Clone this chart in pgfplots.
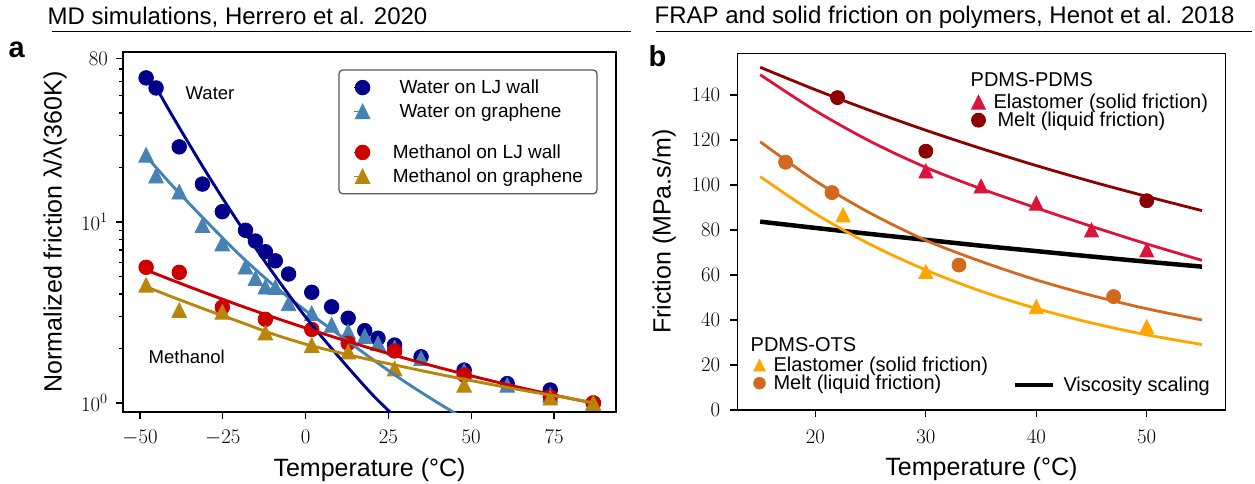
\documentclass[border=0pt]{standalone}
\usepackage{fontspec}
\setmainfont{Liberation Sans}
\usepackage{pgfplots}
\pgfplotsset{compat=1.18}
\usepackage{graphicx}

\definecolor{cnavy}{RGB}{0,0,139}
\definecolor{csteel}{RGB}{70,130,180}
\definecolor{cred}{RGB}{204,0,0}
\definecolor{cgold}{RGB}{184,134,11}
\definecolor{cdred}{RGB}{139,0,0}
\definecolor{ccrim}{RGB}{220,20,60}
\definecolor{cchoc}{RGB}{210,105,30}
\definecolor{corange}{RGB}{255,165,0}
\definecolor{cframe}{RGB}{90,90,90}

\newcommand{\fs}[1]{\fontsize{#1}{#1}\selectfont}
\newcommand{\lstrut}{\rule[-5.7pt]{0pt}{19pt}}
\newcommand{\bstrut}{\rule[-6pt]{0pt}{20pt}}

\pgfdeclareplotmark{mtri}{%
  \pgfpathmoveto{\pgfqpoint{0pt}{\pgfplotmarksize}}%
  \pgfpathlineto{\pgfqpoint{-\pgfplotmarksize}{-\pgfplotmarksize}}%
  \pgfpathlineto{\pgfqpoint{\pgfplotmarksize}{-\pgfplotmarksize}}%
  \pgfpathclose
  \pgfusepathqfillstroke}

\pgfplotsset{
  myaxis/.style={scale only axis, anchor=south west, tick align=outside, tick pos=left,
    axis line style={line width=1.4pt}, every tick/.style={black, line width=1.2pt},
    major tick length=7pt, minor tick length=4pt,
    ticklabel style={font=\fs{21}, inner sep=0pt},
    label style={font=\fs{25}, inner sep=0pt},
    clip mode=individual},
  markonly/.style={only marks, mark options={line width=0.8pt}},
}

\begin{document}
\begin{tikzpicture}
\path[use as bounding box] (0pt,0pt) rectangle (1255pt,483pt);

% ---------------- panel a ----------------
\begin{axis}[myaxis, at={(123pt,71pt)}, width=493pt, height=360pt,
  ymode=log, xmin=-55.13, xmax=93.7, ymin=0.892, ymax=86.9,
  xtick={-50,-25,0,25,50,75}, ytick={1,10,80}, yticklabels={$10^0$,$10^1$,$80$},
  minor ytick={2,3,4,5,6,7,8,9,20,30,40,50,60,70},
  xticklabel shift=11pt, yticklabel shift=8pt,
  xlabel={Temperature (°C)}, ylabel={Normalized friction λ/λ(360K)},
  xlabel style={at={(axis description cs:0.5,-0.17972)}, anchor=base},
  ylabel style={at={(axis description cs:-0.12434,0.5)}, anchor=base},
  legend cell align=left,
  legend style={at={(1,1)}, anchor=north east, xshift=-18.3pt, yshift=-17.3pt,
    draw=cframe, line width=1.3pt, rounded corners=4pt, fill=white, font=\fs{19},
    inner xsep=14pt, inner ysep=10pt, row sep=8.5pt, column sep=23pt,
    nodes={inner sep=0pt}},
  legend image code/.code={\path (0pt,0pt) -- (9pt,0pt); \draw[#1] plot coordinates {(9pt,0pt)};},
]
% markers (drawn below the fitted lines)
\addplot[markonly, mark=*, mark size=7.3pt, color=cnavy] coordinates {
(-48.15,62.5) (-45.15,55) (-38.15,26) (-31.15,16.2) (-25.15,11.4) (-18.15,9.0)
(-15.15,7.85) (-12.15,6.85) (-9.15,6.1) (-5.15,5.16) (1.85,4.09) (7.85,3.40)
(12.85,2.94) (17.85,2.51) (21.85,2.28) (26.85,2.09) (34.85,1.80) (47.85,1.52)
(60.85,1.28) (73.85,1.18) (86.85,1.0)};
\addlegendentry{\hspace{6.6pt}Water on LJ wall\lstrut}
\addplot[markonly, mark=mtri, mark size=7.3pt, color=csteel] coordinates {
(-48.15,23.5) (-45.15,18.0) (-38.15,14.7) (-31.15,9.6) (-25.15,7.6) (-18.15,5.66)
(-15.15,4.89) (-12.15,4.39) (-9.15,4.36) (-5.15,3.55) (1.85,3.13) (7.85,2.70)
(12.85,2.48) (17.85,2.34) (21.85,2.14) (26.85,2.02) (34.85,1.77) (47.85,1.50)
(60.85,1.26) (73.85,1.11) (86.85,1.0)};
\addlegendentry{\hspace{6.6pt}Water on graphene\lstrut}
\addlegendimage{empty legend}
\addlegendentry{\rule{0pt}{7.3pt}}
\addplot[markonly, mark=*, mark size=7.3pt, color=cred] coordinates {
(-48.15,5.62) (-38.15,5.27) (-25.15,3.38) (-12.15,2.90) (1.85,2.55) (12.85,2.14)
(26.85,1.94) (47.85,1.43) (73.85,1.08) (86.85,1.0)};
\addlegendentry{Methanol on LJ wall\lstrut}
\addplot[markonly, mark=mtri, mark size=7.3pt, color=cgold] coordinates {
(-48.15,4.49) (-38.15,3.26) (-25.15,3.19) (-12.15,2.45) (1.85,2.09) (12.85,1.92)
(26.85,1.55) (47.85,1.26) (73.85,1.07) (86.85,1.0)};
\addlegendentry{Methanol on graphene\lstrut}
% fitted lines
\addplot[csteel, line width=2.9pt, smooth, forget plot] coordinates {
(-48.15,23.1) (-40,15.7) (-30,10.1) (-20,6.6) (-10,4.52) (0,3.24) (10,2.39) (20,1.754) (30,1.309) (40,1.0) (47,0.84)};
\addplot[cnavy, line width=2.9pt, smooth, forget plot] coordinates {
(-46,59.07) (-40,37.97) (-30,18.82) (-20,9.745) (-10,5.275) (0,2.985) (10,1.80) (20,1.12) (27,0.84)};
\addplot[cred, line width=2.9pt, smooth, forget plot] coordinates {
(-48.15,5.43) (-40,4.745) (-30,4.042) (-20,3.464) (-10,2.990) (0,2.597) (10,2.269) (20,1.996)
(30,1.767) (40,1.575) (50,1.413) (60,1.275) (70,1.158) (80,1.059) (86.85,1.0)};
\addplot[cgold, line width=2.9pt, smooth, forget plot] coordinates {
(-48.15,4.39) (-40,3.837) (-30,3.273) (-20,2.812) (-10,2.410) (0,2.113) (10,1.901) (20,1.726)
(30,1.578) (40,1.445) (50,1.330) (60,1.227) (70,1.138) (80,1.059) (86.85,1.0)};
\end{axis}

% ---------------- panel b ----------------
\begin{axis}[myaxis, at={(737.3pt,73pt)}, width=488.3pt, height=356.7pt,
  xmin=12.93, xmax=57.14, ymin=0, ymax=158.5,
  xtick={20,30,40,50}, ytick={0,20,40,60,80,100,120,140},
  xticklabel shift=13pt, yticklabel shift=10pt,
  xlabel={Temperature (°C)}, ylabel={Friction (MPa.s/m)},
  xlabel style={at={(axis description cs:0.5,-0.18223)}, anchor=base},
  ylabel style={at={(axis description cs:-0.1366,0.5)}, anchor=base},
  legend cell align=left,
  legend style={at={(0,1)}, anchor=north west, xshift=234pt, yshift=-40.7pt,
    draw=none, fill=none, font=\fs{20}, inner sep=0pt, row sep=2pt, column sep=8pt,
    nodes={inner sep=0pt}},
  legend image code/.code={\draw[#1] plot coordinates {(0pt,0pt)};},
]
\addplot[black, line width=4.5pt, smooth, forget plot] coordinates {
(15,83.7) (20,80.9) (25,78.2) (30,75.6) (35,73.0) (40,70.6) (45,68.2) (50,65.9) (55,63.7)};
\addplot[cdred, line width=2.8pt, smooth, forget plot] coordinates {
(15,152.3) (20,142.3) (25,133.0) (30,124.3) (35,116.2) (40,108.6) (45,101.5) (50,94.9) (55,88.6)};
\addplot[ccrim, line width=2.8pt, smooth, forget plot] coordinates {
(15,149) (20,133) (25,119.3) (30,107.8) (35,98.3) (40,89.8) (45,81.6) (50,73.8) (55,66.5)};
\addplot[cchoc, line width=2.8pt, smooth, forget plot] coordinates {
(15,119.2) (20,101.8) (25,87.4) (30,75.4) (35,66.0) (40,57.8) (45,50.9) (50,45.0) (55,40.0)};
\addplot[corange, line width=2.8pt, smooth, forget plot] coordinates {
(15,103.7) (20,87.2) (25,73.5) (30,62.2) (35,52.8) (40,45.1) (45,38.7) (50,33.4) (55,29.1)};
\addplot[markonly, mark=mtri, mark size=7pt, color=ccrim] coordinates {
(30,106.2) (35,99.5) (40,91.9) (45,80) (50,71.1)};
\addlegendentry{Elastomer (solid friction)\bstrut}
\addplot[markonly, mark=*, mark size=7pt, color=cdred] coordinates {
(22,138.8) (30,115) (50,93)};
\addlegendentry{\hspace{4pt}Melt (liquid friction)\bstrut}
\addplot[markonly, mark=*, mark size=7pt, color=cchoc, forget plot] coordinates {
(17.3,110.1) (21.5,96.6) (33,64.4) (47,50.4)};
\addplot[markonly, mark=mtri, mark size=7pt, color=corange, forget plot] coordinates {
(22.5,86.7) (30,61.5) (40,45.9) (50,37)};
\end{axis}

% legend PDMS-OTS
\begin{axis}[at={(737.3pt,73pt)}, anchor=south west, scale only axis, width=488.3pt, height=356.7pt,
  hide axis, xmin=0, xmax=1, ymin=0, ymax=1,
  legend cell align=left,
  legend style={at={(0,1)}, anchor=north west, xshift=16pt, yshift=-303.7pt,
    draw=none, fill=none, font=\fs{20}, inner sep=0pt, row sep=2pt, column sep=8pt,
    nodes={inner sep=0pt}},
  legend image code/.code={\draw[#1] plot coordinates {(0pt,0pt)};},
]
\addlegendimage{only marks, mark=mtri, mark size=6pt, corange}
\addlegendentry{Elastomer (solid friction)\bstrut}
\addlegendimage{only marks, mark=*, mark size=6pt, cchoc}
\addlegendentry{Melt (liquid friction)\bstrut}
\end{axis}

% legend viscosity
\begin{axis}[at={(737.3pt,73pt)}, anchor=south west, scale only axis, width=488.3pt, height=356.7pt,
  hide axis, xmin=0, xmax=1, ymin=0, ymax=1,
  legend style={at={(0,1)}, anchor=north west, xshift=275.1pt, yshift=-323.4pt,
    draw=none, fill=none, font=\fs{20}, inner sep=0pt, column sep=8pt,
    nodes={inner sep=0pt}},
  legend image code/.code={\draw[#1] (0pt,0pt) -- (38.4pt,0pt);},
]
\addlegendimage{black, line width=4.5pt}
\addlegendentry{Viscosity scaling\bstrut}
\end{axis}

% ---------------- texts ----------------
\node[anchor=base west, inner sep=0pt, font=\fs{24}] at (47.5pt,458pt) {MD simulations, Herrero et al. 2020};
\node[anchor=base west, inner sep=0pt, font=\fs{24}] at (654.5pt,459.5pt) {FRAP and solid friction on polymers, Henot et al. 2018};
\draw[line width=1.6pt] (51.7pt,451.3pt) -- (631.3pt,451.3pt);
\draw[line width=1.6pt] (656.4pt,451.3pt) -- (1252pt,451.3pt);
\node[anchor=base west, inner sep=0pt, font=\fs{29}\bfseries] at (8.5pt,425pt) {a};
\node[anchor=base west, inner sep=0pt, font=\fs{29}\bfseries] at (648.5pt,416.3pt) {b};
\node[anchor=base west, inner sep=0pt, font=\fs{18.5}] at (185.5pt,383pt) {Water};
\node[anchor=base west, inner sep=0pt, font=\fs{18.5}] at (148.5pt,119.7pt) {Methanol};
\node[anchor=base west, inner sep=0pt, font=\fs{20}] at (970.5pt,396.3pt) {PDMS-PDMS};
\node[anchor=base west, inner sep=0pt, font=\fs{20}] at (750.5pt,131.3pt) {PDMS-OTS};
\end{tikzpicture}
\end{document}
